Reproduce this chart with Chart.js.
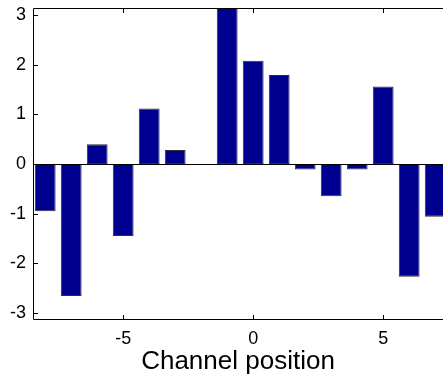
<!DOCTYPE html>
<html>
<head>
<meta charset="utf-8">
<script src="https://cdn.jsdelivr.net/npm/chart.js@4"></script>
<style>
  body { margin: 0; background: #fff; }
  canvas { display: block; }
</style>
</head>
<body>
<canvas id="graph" width="443" height="383"></canvas>
<script>
// channel positions and phase values
const positions = [-8, -7, -6, -5, -4, -3, -2, -1, 0, 1, 2, 3, 4, 5, 6, 7];
const values = [-0.95, -2.66, 0.40, -1.45, 1.12, 0.28, 0, 3.3, 2.08, 1.79, -0.11, -0.65, -0.11, 1.56, -2.27, -1.06];
const xTicks = [-5, 0, 5];
const yTicks = [-3, -2, -1, 0, 1, 2, 3];

const FONT = "'Liberation Sans', Arial, sans-serif";

// matlab style box + inward ticks
const boxPlugin = {
  id: "box",
  afterDraw(chart) {
    const ctx = chart.ctx;
    const a = chart.chartArea;
    const xs = chart.scales.x, ys = chart.scales.y;
    ctx.save();
    ctx.strokeStyle = "#000";
    ctx.lineWidth = 1;
    ctx.beginPath();
    ctx.moveTo(a.right, a.top + 0.5);
    ctx.lineTo(a.left + 0.5, a.top + 0.5);
    ctx.lineTo(a.left + 0.5, a.bottom - 0.5);
    ctx.lineTo(a.right, a.bottom - 0.5);
    xTicks.forEach(v => {
      const px = Math.round(xs.getPixelForValue(v)) + 0.5;
      ctx.moveTo(px, a.bottom);
      ctx.lineTo(px, a.bottom - 5);
      ctx.moveTo(px, a.top);
      ctx.lineTo(px, a.top + 5);
    });
    yTicks.forEach(v => {
      const py = Math.round(ys.getPixelForValue(v)) + 0.5;
      ctx.moveTo(a.left, py);
      ctx.lineTo(a.left + 5, py);
    });
    ctx.stroke();
    // zero baseline
    const y0 = Math.round(ys.getPixelForValue(0)) + 0.5;
    ctx.beginPath();
    ctx.moveTo(a.left, y0);
    ctx.lineTo(a.right, y0);
    ctx.stroke();
    ctx.restore();
  }
};

new Chart(document.getElementById("graph").getContext("2d"), {
  type: "bar",
  data: {
    datasets: [{
      data: positions.map((p, i) => ({ x: p, y: values[i] })),
      backgroundColor: "#000090",
      borderColor: "#303030",
      borderWidth: 1,
      borderSkipped: false,
      barPercentage: 0.8,
      categoryPercentage: 1.0
    }]
  },
  options: {
    responsive: false,
    animation: false,
    layout: { padding: { top: 8, left: 0, right: 0, bottom: 0 } },
    plugins: { legend: { display: false }, tooltip: { enabled: false } },
    scales: {
      x: {
        type: "linear",
        offset: false,
        min: -8.47,
        max: 7.3,
        afterBuildTicks: s => { s.ticks = xTicks.map(v => ({ value: v })); },
        afterFit: s => { s.height = 63; },
        grid: { display: false, drawTicks: false, offset: false },
        border: { display: false },
        ticks: { color: "#000", padding: 8, font: { family: FONT, size: 18 } },
        title: {
          display: true,
          text: "Channel position",
          color: "#000",
          font: { family: FONT, size: 26 },
          padding: { top: 0, bottom: 6 }
        }
      },
      y: {
        min: -Math.PI,
        max: Math.PI,
        afterBuildTicks: s => { s.ticks = yTicks.map(v => ({ value: v })); },
        afterFit: s => { s.width = 33; s.paddingTop = 0; s.paddingBottom = 0; },
        grid: { display: false, drawTicks: false },
        border: { display: false },
        ticks: { color: "#000", padding: 7, font: { family: FONT, size: 18 } }
      }
    }
  },
  plugins: [boxPlugin]
});
</script>
</body>
</html>
